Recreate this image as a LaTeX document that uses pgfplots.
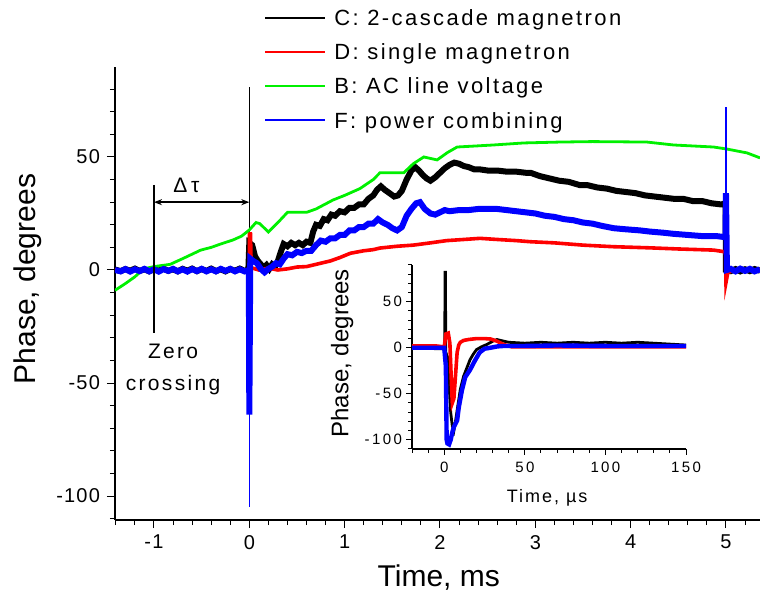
\documentclass[border=0pt]{standalone}
\usepackage{fontspec}
\setmainfont{Liberation Sans}
\newfontfamily\spfont[LetterSpace=11]{Liberation Sans}
\newfontfamily\tkfont[LetterSpace=6]{Liberation Sans}
\newfontfamily\tksmall[LetterSpace=16]{Liberation Sans}
\usepackage{pgfplots}
\pgfplotsset{compat=1.18}
\usetikzlibrary{arrows.meta}
\definecolor{ogreen}{RGB}{0,240,0}
\definecolor{ored}{RGB}{255,0,0}
\definecolor{oblue}{RGB}{0,0,255}

\begin{document}
\begin{tikzpicture}
\useasboundingbox (0,0) rectangle (380pt,297pt);
% main axis
\begin{axis}[
    at={(57.5pt,37pt)}, anchor=south west, scale only axis,
    width=322.5pt, height=226.5pt,
    xmin=-1.409, xmax=5.357, ymin=-110.6, ymax=89.8,
    axis x line*=bottom, axis y line*=left,
    axis line style={-, line width=0.7pt},
    xtick={-1,0,1,2,3,4,5}, ytick={-100,-50,0,50},
    minor xtick={-1.4,-1.2,-0.8,-0.6,-0.4,-0.2,0.2,0.4,0.6,0.8,1.2,1.4,1.6,1.8,2.2,2.4,2.6,2.8,3.2,3.4,3.6,3.8,4.2,4.4,4.6,4.8,5.2},
    minor ytick={-110,-90,-80,-70,-60,-40,-30,-20,-10,10,20,30,40,60,70,80},
    tick align=outside, major tick length=4pt, minor tick length=2.5pt,
    tick style={black, line width=0.5pt},
    tick label style={font=\tkfont\fontsize{10}{12}\selectfont},
    /pgf/number format/assume math mode=true,
    xlabel={Time, ms}, ylabel={Phase, degrees},
    label style={font=\fontsize{15}{18}\selectfont},
    xlabel style={at={(axis description cs:0.502,-0.128)}, anchor=center},
    ylabel style={at={(axis description cs:-0.135,0.532)}, anchor=center},
]
% C: 2-cascade magnetron
\addplot[black, line width=3pt] coordinates {
(-1.409,0.2) (-1.35,-0.5) (-1.3,0.4) (-1.25,-0.3) (-1.2,0.6) (-1.15,-0.4) (-1.1,0.3) (-1.05,-0.6) (-1.0,0.5) (-0.95,-0.3)
(-0.9,0.6) (-0.85,-0.4) (-0.8,0.3) (-0.75,-0.6) (-0.7,0.5) (-0.65,-0.3) (-0.6,0.6) (-0.55,-0.5) (-0.5,0.4) (-0.45,-0.4)
(-0.4,0.6) (-0.35,-0.5) (-0.3,0.3) (-0.25,-0.6) (-0.2,0.4) (-0.15,-0.3) (-0.1,0.6) (-0.05,-0.4) (-0.01,0.2)
(0.0,12) (0.03,11) (0.06,6) (0.09,4) (0.12,2.5) (0.15,1) (0.18,2.2) (0.21,0.5) (0.24,2.5) (0.27,1.5) (0.3,4) (0.33,8)
(0.36,11.5) (0.4,10.5) (0.44,12) (0.48,11) (0.52,12) (0.56,11) (0.6,12.5) (0.64,12) (0.67,17) (0.7,20) (0.74,19.5)
(0.78,22.5) (0.82,22) (0.86,24.5) (0.9,24) (0.95,26) (1.0,25.5) (1.05,27.5) (1.1,27.5) (1.15,29) (1.2,29) (1.25,31.5)
(1.3,33) (1.34,35.5) (1.38,37) (1.42,35.5) (1.47,34) (1.52,32.5) (1.56,33) (1.6,35) (1.65,40) (1.7,44) (1.74,45.5)
(1.78,44) (1.82,42) (1.86,40.5) (1.9,39.5) (1.95,41) (2.0,43) (2.05,45) (2.1,46.5) (2.15,47.5) (2.2,47) (2.25,46) (2.3,45.5)
(2.36,44.5) (2.42,44.5) (2.5,44) (2.6,44) (2.7,43.5) (2.8,43.5) (2.9,43) (2.95,43) (3.05,41.5) (3.15,40.5) (3.25,39.5)
(3.35,39) (3.47,37.5) (3.55,37.5) (3.65,36.5) (3.75,36) (3.85,35) (3.95,34.5) (4.05,34) (4.15,33) (4.25,32.5) (4.35,32)
(4.45,31.5) (4.55,31.5) (4.65,30.5) (4.75,30.5) (4.85,29.5) (4.95,29) (4.995,29.5) (5.0,0) (5.05,-0.5) (5.1,0.4) (5.15,-0.6)
(5.2,0.3) (5.25,-0.5) (5.3,0.4) (5.357,-0.3)
};
\addplot[black, line width=0.8pt] coordinates {(0,0) (0,81)};
% D: single magnetron
\addplot[ored, line width=1.8pt] coordinates {
(-1.409,0) (0,0) (0,16) (0.012,16) (0.02,1) (0.1,0) (0.2,0.8) (0.3,0) (0.4,0.5) (0.5,1.3) (0.6,1.5) (0.7,2.5) (0.75,3)
(0.85,4) (0.95,5.5) (1.06,7.4) (1.2,8.5) (1.3,9) (1.37,9.7) (1.55,10.5) (1.72,11) (1.9,12) (2.07,13) (2.25,13.5) (2.42,14)
(2.6,13.5) (2.8,13) (2.95,12.5) (3.2,12) (3.5,11) (3.82,10.3) (4.2,9.8) (4.5,9.3) (4.87,8.8) (4.995,8) (5.0,-5.5)
(5.02,-1) (5.1,0) (5.357,0)
};
% B: AC line voltage
\addplot[ogreen, line width=1.4pt] coordinates {
(-1.409,-9) (-1.3,-6) (-1.2,-3) (-1.11,0.5) (-1.0,1.5) (-0.83,2.5) (-0.7,5) (-0.6,7) (-0.51,8.8) (-0.4,10) (-0.3,11.5)
(-0.17,13.3) (-0.08,15) (0,17.7) (0.07,21) (0.11,20.5) (0.2,16.8) (0.3,21) (0.4,25.5) (0.6,25.5) (0.7,27) (0.88,31)
(1.0,33) (1.16,36) (1.3,40) (1.37,43) (1.62,43) (1.72,47) (1.83,50) (1.97,48.7) (2.08,52) (2.18,54.4) (2.56,55.3)
(2.88,56.2) (3.26,56.6) (3.6,56.8) (4.17,56.6) (4.45,55.3) (4.87,54.4) (5.01,53.5) (5.22,51.8) (5.357,49.6)
};
% F: power combining
\addplot[oblue, line width=3pt] coordinates {
(-1.409,0) (-1.35,-0.6) (-1.3,0.4) (-1.25,-0.7) (-1.2,0.3) (-1.15,-0.5) (-1.1,0.5) (-1.05,-0.6) (-1.0,0.3) (-0.95,-0.7)
(-0.9,0.4) (-0.85,-0.4) (-0.8,0.5) (-0.75,-0.6) (-0.7,0.3) (-0.65,-0.7) (-0.6,0.4) (-0.55,-0.5) (-0.5,0.5) (-0.45,-0.6)
(-0.4,0.3) (-0.35,-0.6) (-0.3,0.5) (-0.25,-0.4) (-0.2,0.5) (-0.15,-0.6) (-0.1,0.3) (-0.05,-0.6) (-0.005,0)
(0,-64) (0.01,5) (0.04,4) (0.08,3) (0.12,0.5) (0.16,-1) (0.2,0.5) (0.24,1.5) (0.28,3) (0.32,2.5) (0.36,5) (0.4,7)
(0.45,6.5) (0.5,8) (0.55,7.5) (0.6,8.5) (0.65,8.5) (0.7,11) (0.75,13) (0.8,12.5) (0.85,14) (0.9,14) (0.95,15.5) (1.0,15.5)
(1.05,17.5) (1.1,17.5) (1.15,19) (1.2,19) (1.25,20.5) (1.3,20.5) (1.35,22.5) (1.4,21) (1.45,20) (1.5,18.5) (1.55,17.5)
(1.6,19) (1.65,24) (1.7,27) (1.75,29.5) (1.79,30) (1.84,27) (1.9,25) (1.95,24.5) (2.0,25.5) (2.05,26.5) (2.1,26)
(2.2,26.5) (2.3,26.5) (2.4,27) (2.5,27) (2.6,27) (2.7,26.5) (2.8,26) (2.9,25.5) (3.0,25) (3.1,24) (3.2,23.5)
(3.3,22.5) (3.4,22) (3.5,21) (3.6,20.5) (3.7,19.5) (3.82,18.5) (3.95,18) (4.1,17.5) (4.2,17) (4.34,16.5)
(4.45,16) (4.6,15.5) (4.75,15) (4.9,15) (4.995,14.5) (5.0,34) (5.01,0) (5.05,0.5) (5.1,-0.6) (5.15,0.6) (5.2,-0.4)
(5.25,0.5) (5.3,-0.6) (5.357,0.3)
};
\addplot[oblue, line width=0.8pt] coordinates {(0,0) (0,-105)};
\addplot[oblue, line width=0.8pt] coordinates {(5,14) (5,72)};
% annotations
\draw[line width=0.7pt] (axis cs:-1,37.6) -- (axis cs:-1,-28);
\draw[line width=0.7pt, {Stealth[length=4pt,width=3pt]}-{Stealth[length=4pt,width=3pt]}] (axis cs:-1,30) -- (axis cs:0,30);
\node[font=\spfont\fontsize{10.5}{12.6}\selectfont] at (axis cs:-0.66,37.6) {Δ\,τ};
\node[font=\spfont\fontsize{10.5}{16}\selectfont, align=center] at (axis cs:-0.8,-43.8) {Zero\\crossing};
\end{axis}
% legend, drawn by hand above the main axis
\begin{scope}[every node/.style={anchor=base west, inner sep=0pt, font=\spfont\fontsize{11}{13}\selectfont}]
\fill[black] (132.5pt,287.5pt) rectangle (162.5pt,288.5pt);
\node at (167pt,284.25pt) {C: 2-cascade magnetron};
\fill[ored] (132.5pt,270.5pt) rectangle (162.5pt,271.5pt);
\node at (167pt,267.25pt) {D: single magnetron};
\fill[ogreen] (132.5pt,253.5pt) rectangle (162.5pt,254.5pt);
\node at (167pt,250pt) {B: AC line voltage};
\fill[oblue] (132.5pt,236.5pt) rectangle (162.5pt,237.5pt);
\node at (167pt,232.75pt) {F: power combining};
\end{scope}
% inset
\begin{axis}[
    at={(206pt,72.5pt)}, anchor=south west, scale only axis,
    width=137pt, height=92pt,
    xmin=-20, xmax=150, ymin=-110, ymax=90,
    axis x line*=bottom, axis y line*=left,
    axis line style={-, line width=0.7pt},
    xtick={0,50,100,150}, ytick={-100,-50,0,50},
    minor xtick={-20,-10,...,150}, minor ytick={-110,-100,...,90},
    tick align=outside, major tick length=3pt, minor tick length=2pt,
    tick style={black, line width=0.5pt},
    tick label style={font=\tksmall\fontsize{7.5}{9}\selectfont},
    yticklabel style={xshift=1.5pt},
    /pgf/number format/assume math mode=true,
    xlabel={Time, µs}, ylabel={Phase, degrees},
    xlabel style={at={(axis description cs:0.493,-0.266)}, anchor=center, font=\spfont\fontsize{9}{11}\selectfont},
    ylabel style={at={(axis description cs:-0.255,0.52)}, anchor=center, font=\fontsize{12}{14}\selectfont},
]
\addplot[black, line width=1.4pt] coordinates {
(-20,0) (-10,-0.5) (-5,-1) (0,-1) (0.3,-12) (0.5,82) (0.7,82) (1,-5) (2,-10) (3,-40) (4,-70) (5,-85) (6,-90) (7,-80)
(8,-68) (10,-45) (12,-31) (14,-22) (16,-13) (18,-7) (20,-2) (23,1) (26.5,3.7) (30,7) (32.7,9) (35,8) (40,6) (50,5)
(60,6) (70,5) (80,6) (90,5) (100,6) (110,5) (120,6) (130,5) (140,4) (150,3)
};
\addplot[ored, line width=1.8pt] coordinates {
(-20,2) (-5,2) (0,1) (1,15) (2.5,16) (3.5,5) (4.5,-40) (5,-60) (6,-55) (7,-30) (8,-5) (9,3) (10,6) (12,8) (15,9)
(20,10) (25,10) (29,9.5) (33,7) (37,3.5) (42,1) (60,1) (100,1) (150,1)
};
\addplot[oblue, line width=2.2pt] coordinates {
(-20,0) (-5,0) (0,0) (1,-20) (1.5,-100) (2,-104) (3,-105) (4,-100) (5,-92) (6,-86) (8,-79) (9,-65) (11,-46) (13,-32)
(16,-24) (19,-14) (22,-5) (25,-1) (28.5,0) (33,1.5) (37,2) (50,2) (70,2.5) (100,2) (120,2) (150,2)
};
\end{axis}
\end{tikzpicture}
\end{document}
